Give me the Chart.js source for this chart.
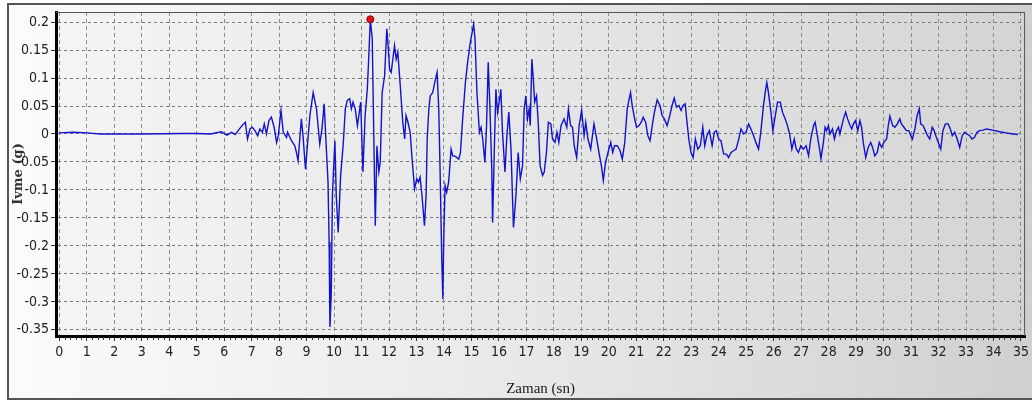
<!DOCTYPE html>
<html lang="tr">
<head>
  <meta charset="UTF-8">
  <title>Ivme - Zaman</title>
  <script src="https://cdn.jsdelivr.net/npm/chart.js"></script>
  <style>
    html, body { margin: 0; padding: 0; background: #fff; overflow: hidden; }
    .frame {
      position: absolute; left: 7px; top: 3px; width: 1030px; height: 393px;
      border: 2px solid #555;
      background: linear-gradient(to right, #fbfbfb, #e6e6e6 55%, #cfcfcf);
    }
    #chart { position: absolute; left: 0; top: 0; }
  </style>
</head>
<body>
<div class="frame"></div>
<canvas id="chart" width="1032" height="403"></canvas>

<script>
  // zaman (sn)
  const times = [
    0, 0.5, 1.0, 1.5, 3.0, 4.5, 5.0, 5.5, 5.9, 6.1, 6.27, 6.4, 6.51, 6.65, 6.77, 6.85, 6.94, 7.02, 7.12, 7.22,
    7.30, 7.39, 7.46, 7.54, 7.63, 7.72, 7.82, 7.91, 7.97, 8.07, 8.15, 8.27, 8.31, 8.45, 8.57, 8.63, 8.69, 8.81, 8.87, 8.96,
    9.06, 9.12, 9.24, 9.36, 9.48, 9.56, 9.64, 9.72, 9.78, 9.82, 9.85, 9.90, 9.94, 10.03, 10.08, 10.15, 10.24, 10.33, 10.41, 10.48,
    10.57, 10.63, 10.69, 10.77, 10.85, 10.97, 11.05, 11.13, 11.21, 11.26, 11.32, 11.39, 11.45, 11.50, 11.56, 11.63, 11.68, 11.75, 11.84, 11.92,
    11.96, 12.02, 12.08, 12.14, 12.20, 12.26, 12.32, 12.41, 12.50, 12.57, 12.62, 12.69, 12.77, 12.84, 12.93, 13.01, 13.07, 13.13, 13.20, 13.29,
    13.35, 13.39, 13.45, 13.50, 13.59, 13.69, 13.75, 13.81, 13.86, 13.92, 13.96, 13.99, 14.04, 14.10, 14.17, 14.26, 14.32, 14.42, 14.54, 14.60,
    14.68, 14.78, 14.86, 14.96, 15.08, 15.13, 15.20, 15.29, 15.35, 15.41, 15.49, 15.55, 15.61, 15.67, 15.74, 15.77, 15.83, 15.89, 15.95, 16.01,
    16.07, 16.13, 16.22, 16.29, 16.36, 16.44, 16.50, 16.53, 16.62, 16.70, 16.78, 16.86, 16.92, 16.98, 17.04, 17.10, 17.14, 17.20, 17.26, 17.30,
    17.37, 17.43, 17.50, 17.59, 17.65, 17.73, 17.80, 17.89, 17.95, 18.04, 18.11, 18.18, 18.26, 18.37, 18.47, 18.53, 18.61, 18.68, 18.74, 18.83,
    18.92, 19.01, 19.10, 19.16, 19.24, 19.34, 19.46, 19.56, 19.64, 19.73, 19.80, 19.88, 19.97, 20.07, 20.14, 20.21, 20.31, 20.41, 20.49, 20.58,
    20.67, 20.73, 20.79, 20.85, 20.94, 21.01, 21.10, 21.18, 21.25, 21.34, 21.42, 21.50, 21.58, 21.66, 21.76, 21.86, 21.94, 22.02, 22.12, 22.22,
    22.30, 22.38, 22.46, 22.55, 22.63, 22.70, 22.78, 22.82, 22.91, 22.99, 23.07, 23.15, 23.24, 23.33, 23.42, 23.49, 23.57, 23.66, 23.76, 23.84,
    23.91, 24.00, 24.08, 24.18, 24.28, 24.36, 24.45, 24.54, 24.63, 24.73, 24.81, 24.91, 24.99, 25.09, 25.17, 25.27, 25.35, 25.45, 25.53, 25.63,
    25.69, 25.75, 25.81, 25.90, 25.97, 26.05, 26.14, 26.24, 26.32, 26.42, 26.50, 26.58, 26.66, 26.75, 26.82, 26.90, 26.99, 27.08, 27.18, 27.27,
    27.35, 27.45, 27.51, 27.59, 27.67, 27.72, 27.81, 27.87, 27.93, 27.99, 28.05, 28.14, 28.21, 28.29, 28.36, 28.41, 28.48, 28.54, 28.62, 28.69,
    28.78, 28.84, 28.90, 28.98, 29.06, 29.14, 29.20, 29.26, 29.35, 29.44, 29.53, 29.60, 29.68, 29.77, 29.84, 29.93, 30.01, 30.11, 30.17, 30.23,
    30.33, 30.41, 30.50, 30.59, 30.65, 30.74, 30.83, 30.92, 30.99, 31.05, 31.14, 31.22, 31.30, 31.35, 31.44, 31.52, 31.60, 31.68, 31.77, 31.84,
    31.92, 32.01, 32.08, 32.16, 32.25, 32.35, 32.43, 32.50, 32.59, 32.68, 32.77, 32.86, 32.95, 33.04, 33.13, 33.22, 33.31, 33.40, 33.49, 33.62,
    33.74, 33.98, 34.22, 34.46, 34.71, 34.89
  ];

  // ivme (g)
  const accel = [
    0.002, 0.003, 0.002, 0.000, 0.000, 0.001, 0.001, 0.000, 0.004, -0.002, 0.003, -0.001, 0.006, 0.015, 0.021, -0.009, 0.009, 0.012, 0.006, -0.003,
    0.009, 0.003, 0.018, 0.000, 0.024, 0.030, 0.012, -0.015, -0.003, 0.042, 0.003, -0.006, 0.003, -0.012, -0.021, -0.033, -0.048, 0.027, -0.003, -0.063,
    -0.003, 0.033, 0.074, 0.045, -0.018, 0.009, 0.054, -0.027, -0.086, -0.193, -0.345, -0.283, -0.110, -0.012, -0.110, -0.176, -0.074, -0.021, 0.045, 0.060,
    0.063, 0.045, 0.057, 0.045, 0.015, 0.057, -0.068, 0.033, 0.080, 0.134, 0.205, 0.170, -0.015, -0.164, -0.021, -0.068, -0.051, 0.074, 0.104, 0.188,
    0.164, 0.116, 0.110, 0.134, 0.158, 0.134, 0.146, 0.086, 0.021, -0.009, 0.033, 0.021, 0.003, -0.045, -0.098, -0.080, -0.086, -0.077, -0.110, -0.164,
    -0.110, -0.009, 0.045, 0.068, 0.074, 0.098, 0.110, 0.045, -0.068, -0.223, -0.295, -0.193, -0.092, -0.104, -0.086, -0.027, -0.039, -0.040, -0.045, -0.033,
    0.027, 0.092, 0.128, 0.164, 0.196, 0.170, 0.074, 0.003, 0.012, -0.009, -0.051, 0.015, 0.128, 0.051, -0.063, -0.158, -0.033, 0.080, 0.039, 0.057,
    0.080, 0.003, -0.068, -0.003, 0.039, -0.027, -0.122, -0.167, -0.110, -0.033, -0.080, -0.057, 0.045, 0.068, 0.027, 0.045, 0.015, 0.134, 0.092, 0.057,
    0.068, 0.021, -0.057, -0.074, -0.068, -0.033, 0.021, 0.018, -0.009, -0.015, 0.003, -0.015, 0.015, 0.027, 0.012, 0.045, 0.015, 0.012, -0.021, -0.042,
    0.015, 0.042, -0.003, 0.021, -0.009, -0.027, 0.018, -0.009, -0.033, -0.057, -0.083, -0.051, -0.033, -0.015, -0.033, -0.021, -0.021, -0.030, -0.045, -0.015,
    0.045, 0.060, 0.074, 0.051, 0.027, 0.012, 0.015, 0.021, 0.030, 0.021, -0.003, -0.012, 0.015, 0.039, 0.061, 0.051, 0.033, 0.027, 0.015, 0.033,
    0.051, 0.064, 0.048, 0.051, 0.042, 0.051, 0.054, 0.033, -0.009, -0.033, -0.042, -0.009, -0.027, -0.021, 0.012, -0.021, -0.003, 0.006, -0.021, 0.003,
    0.006, -0.009, -0.012, -0.036, -0.036, -0.042, -0.033, -0.030, -0.027, -0.009, 0.009, 0.000, 0.003, 0.018, 0.009, -0.003, -0.015, -0.027, 0.003, 0.051,
    0.074, 0.092, 0.074, 0.039, 0.006, 0.030, 0.057, 0.057, 0.039, 0.027, 0.015, 0.000, -0.027, -0.009, -0.027, -0.033, -0.021, -0.027, -0.021, -0.039,
    -0.009, 0.015, 0.021, -0.003, -0.027, -0.044, -0.015, 0.012, 0.006, 0.015, 0.000, 0.009, -0.009, 0.006, 0.012, 0.000, 0.015, 0.027, 0.039, 0.027,
    0.015, 0.009, 0.018, 0.024, 0.006, 0.024, 0.012, -0.015, -0.042, -0.024, -0.015, -0.024, -0.039, -0.033, -0.015, -0.024, -0.015, -0.009, 0.015, 0.032,
    0.015, 0.012, 0.018, 0.027, 0.018, 0.012, 0.006, 0.006, -0.003, -0.009, 0.009, 0.033, 0.045, 0.018, 0.015, 0.006, -0.003, -0.009, 0.012, 0.006,
    -0.006, -0.018, -0.027, 0.006, 0.018, 0.018, 0.009, -0.003, 0.003, -0.009, -0.024, -0.003, 0.003, 0.000, -0.003, -0.009, -0.006, 0.003, 0.006, 0.007,
    0.009, 0.007, 0.004, 0.002, 0.000, -0.001
  ];

  // en büyük ivme (kırmızı nokta)
  const peakTime = [11.32];
  const peakAccel = [0.205];

  const xTicks = [0, 1, 2, 3, 4, 5, 6, 7, 8, 9, 10, 11, 12, 13, 14, 15, 16, 17, 18, 19, 20, 21, 22, 23, 24, 25, 26, 27, 28, 29, 30, 31, 32, 33, 34, 35];
  const yTicks = [-0.35, -0.3, -0.25, -0.2, -0.15, -0.1, -0.05, 0, 0.05, 0.1, 0.15, 0.2];

  const tickFont = { family: "'Liberation Sans Narrow', 'DejaVu Sans Condensed', 'Arial Narrow', sans-serif", size: 14 };

  // plot area background + top/right frame lines
  const plotBg = {
    id: 'plotBg',
    beforeDraw(chart) {
      const { ctx, chartArea: a } = chart;
      const g = ctx.createLinearGradient(a.left, 0, a.right, 0);
      g.addColorStop(0, '#f4f4f4');
      g.addColorStop(0.5, '#e6e6e6');
      g.addColorStop(1, '#d4d4d4');
      ctx.save();
      ctx.fillStyle = g;
      ctx.fillRect(a.left, a.top, a.right - a.left, a.bottom - a.top);
      ctx.restore();
    },
    beforeDatasetsDraw(chart) {
      const { ctx, chartArea: a } = chart;
      ctx.save();
      ctx.strokeStyle = '#555';
      ctx.lineWidth = 1;
      ctx.beginPath();
      ctx.moveTo(a.left, a.top + 0.5);
      ctx.lineTo(a.right - 0.5, a.top + 0.5);
      ctx.lineTo(a.right - 0.5, a.bottom);
      ctx.stroke();
      ctx.restore();
    },
    afterDraw(chart) {
      // small ruler ticks under the time axis
      const { ctx, chartArea: a, scales: { x } } = chart;
      ctx.save();
      ctx.strokeStyle = '#333';
      ctx.lineWidth = 1;
      ctx.beginPath();
      for (let i = 0; i <= 175; i++) {
        if (i % 5 === 0) continue;
        const px = Math.round(x.getPixelForValue(i / 5)) + 0.5;
        ctx.moveTo(px, a.bottom + 1);
        ctx.lineTo(px, a.bottom + 4);
      }
      ctx.stroke();
      ctx.restore();
    }
  };

  new Chart(document.getElementById('chart'), {
    type: 'line',
    data: {
      datasets: [
        {
          data: times.map((t, i) => ({ x: t, y: accel[i] })),
          borderColor: '#1212cc',
          borderWidth: 1.4,
          pointRadius: 0,
          tension: 0,
          order: 2
        },
        {
          data: peakTime.map((t, i) => ({ x: t, y: peakAccel[i] })),
          showLine: false,
          pointRadius: 3.5,
          pointBackgroundColor: '#e01818',
          pointBorderColor: '#8a0000',
          pointBorderWidth: 1,
          order: 1
        }
      ]
    },
    options: {
      responsive: false,
      animation: false,
      layout: { padding: { left: 8, top: 12, right: 5, bottom: 3 } },
      plugins: { legend: { display: false }, tooltip: { enabled: false } },
      scales: {
        x: {
          type: 'linear',
          min: -0.12,
          max: 35.15,
          afterBuildTicks: s => { s.ticks = xTicks.map(v => ({ value: v })); },
          afterFit: s => { s.height = 64; },
          ticks: { font: tickFont, color: '#222', padding: 3, maxRotation: 0, autoSkip: false, callback: v => String(v) },
          grid: { color: '#8c8c8c', lineWidth: 1, borderDash: [4, 3], tickLength: 5, tickColor: '#333', tickBorderDash: [] },
          border: { color: '#000', width: 3, dash: [4, 3] },
          title: {
            display: true, text: 'Zaman (sn)', color: '#1a1a1a',
            font: { family: "'Liberation Serif', 'Times New Roman', serif", size: 15 },
            padding: { top: 0, bottom: 2 }
          }
        },
        y: {
          min: -0.361,
          max: 0.218,
          afterBuildTicks: s => { s.ticks = yTicks.map(v => ({ value: v })); },
          afterFit: s => { s.width = 48; },
          ticks: { font: tickFont, color: '#222', padding: 2, callback: v => String(Number(v.toFixed(2))) },
          grid: { color: '#7a7a7a', lineWidth: 1, borderDash: [3, 3], tickLength: 5, tickColor: '#333', tickBorderDash: [] },
          border: { color: '#000', width: 3, dash: [3, 3] },
          title: {
            display: true, text: 'Ivme (g)', color: '#333',
            font: { family: "'DejaVu Serif', 'Liberation Serif', serif", size: 13, weight: 'bold' },
            padding: { top: 3, bottom: 0 }
          }
        }
      }
    },
    plugins: [plotBg]
  });
</script>
</body>
</html>
